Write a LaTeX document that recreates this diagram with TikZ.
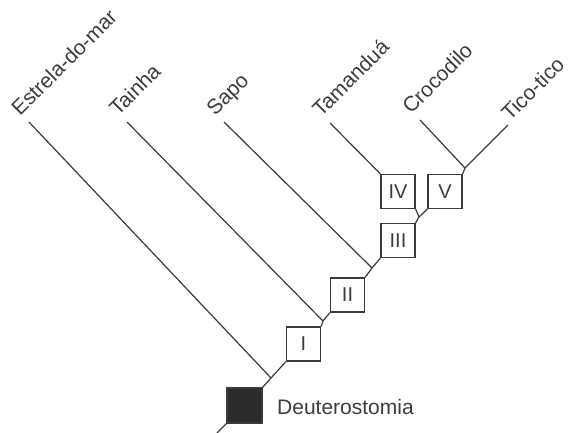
\documentclass[tikz,border=0pt]{standalone}
\usepackage{fontspec}
\setmainfont{Liberation Sans}
\definecolor{ln}{HTML}{3A3A3A}
\definecolor{tx}{HTML}{3C3C3C}
\begin{document}
\begin{tikzpicture}[x=1pt,y=-1pt,
  edge/.style={draw=ln,line width=1.2pt},
  taxon/.style={text=tx,font=\fontsize{21}{25}\selectfont,rotate=45,anchor=base west,inner sep=0pt},
  charbox/.style={draw=ln,line width=1.3pt,fill=white,minimum size=34pt,inner sep=0pt,text=tx,font=\fontsize{20}{23}\selectfont},
  rootbox/.style={draw=ln,line width=1.1pt,fill=black!83,minimum size=35pt,inner sep=0pt}]
\useasboundingbox (0,0) rectangle (572,433);
% character boxes
\node[rootbox] (sq) at (244.5,405.5) {};
\node[charbox] (b1) at (303.5,344) {I};
\node[charbox] (b2) at (347.5,295) {II};
\node[charbox] (b3) at (398,240.5) {III};
\node[charbox] (b4) at (398,191.5) {IV};
\node[charbox] (b5) at (445,191.5) {V};
\node[text=tx,font=\fontsize{21}{25}\selectfont,anchor=base west,inner sep=0pt] (deut) at (277,414) {Deuterostomia};
% branch points and tips
\coordinate (root) at (217,433);
\coordinate (kE) at (271,378);
\coordinate (kT) at (323,321);
\coordinate (kS) at (372,268);
\coordinate (k45) at (419,217);
\coordinate (kCT) at (465,168);
\coordinate (tE) at (29,122);
\coordinate (tT) at (127,122);
\coordinate (tS) at (224,122);
\coordinate (tM) at (330,123);
\coordinate (tC) at (420,120);
\coordinate (tK) at (508,125);
% labels
\node[taxon] (lE) at (20,117) {Estrela-do-mar};
\node[taxon] (lT) at (118,117) {Tainha};
\node[taxon] (lS) at (215,117) {Sapo};
\node[taxon] (lM) at (321,118) {Tamanduá};
\node[taxon] (lC) at (411,115) {Crocodilo};
\node[taxon] (lK) at (510,122) {Tico-tico};
% trunk
\draw[edge] (root) -- (sq.south west);
\draw[edge] (sq.north east) -- (kE) -- (b1.south west);
\draw[edge] (b1.north east) -- (kT) -- (b2.south west);
\draw[edge] (b2.north east) -- (kS) -- (b3.south west);
\draw[edge] (b3.north east) -- (k45) -- (b4.south east);
\draw[edge] (k45) -- (b5.south west);
\draw[edge] (b5.north east) -- (kCT);
% terminal branches
\draw[edge] (kE) -- (tE);
\draw[edge] (kT) -- (tT);
\draw[edge] (kS) -- (tS);
\draw[edge] (b4.north west) -- (tM);
\draw[edge] (kCT) -- (tC);
\draw[edge] (kCT) -- (tK);
\end{tikzpicture}
\end{document}
